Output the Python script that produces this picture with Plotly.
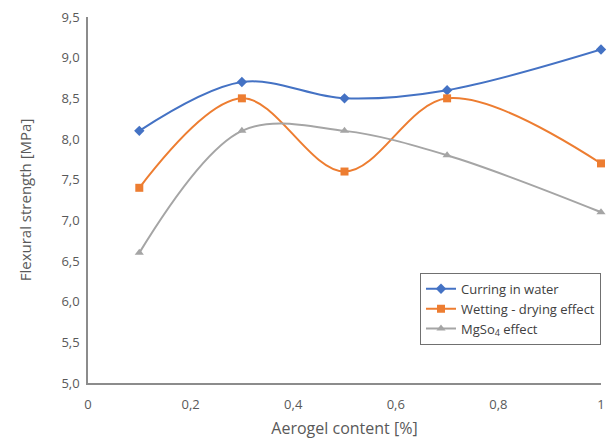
import plotly.graph_objects as go

x_vals = [0.1, 0.3, 0.5, 0.7, 1.0]
curing_water = [8.1, 8.7, 8.5, 8.6, 9.1]
wetting_drying = [7.4, 8.5, 7.6, 8.5, 7.7]
mgso4_effect = [6.6, 8.1, 8.1, 7.8, 7.1]

x_ticks = [0, 0.2, 0.4, 0.6, 0.8, 1]
x_tick_labels = ["0", "0,2", "0,4", "0,6", "0,8", "1"]

series_names = ["Curring in water", "Wetting - drying effect", "MgSo<sub>4</sub> effect"]
colors = ["#4472C4", "#ED7D31", "#A5A5A5"]
symbols = ["diamond", "square", "triangle-up"]

fig = go.Figure()
for name, ys, c, s in zip(series_names, [curing_water, wetting_drying, mgso4_effect], colors, symbols):
    fig.add_trace(go.Scatter(
        x=x_vals, y=ys, name=name, mode="lines+markers",
        line=dict(color=c, width=2, shape="spline", smoothing=1.0),
        marker=dict(symbol=s, size=8, color=c),
        cliponaxis=False,
    ))

font_family = "Open Sans, Noto Sans, sans-serif"
fig.update_layout(
    width=609, height=439,
    margin=dict(l=88, r=8, t=17, b=56),
    paper_bgcolor="white", plot_bgcolor="white",
    separators=",.",
    font=dict(family=font_family, color="#595959", size=13),
    showlegend=True,
    legend=dict(
        x=1.0, y=0.301, xanchor="right", yanchor="top",
        bordercolor="#707070", borderwidth=1, bgcolor="white",
        font=dict(size=13, color="#404040"),
        tracegroupgap=0,
    ),
    xaxis=dict(
        range=[0, 1], tickvals=x_ticks, ticktext=x_tick_labels,
        showgrid=False, zeroline=False, automargin=False,
        showline=True, linecolor="#8C8C8C", linewidth=1.5,
        ticks="", tickfont=dict(size=13), ticklabelstandoff=9,
        title=dict(text="Aerogel content [%]", font=dict(size=16), standoff=12),
    ),
    yaxis=dict(
        range=[5, 9.5], dtick=0.5, tick0=5, tickformat=".1f",
        showgrid=False, zeroline=False, automargin=False,
        showline=True, linecolor="#8C8C8C", linewidth=1.5,
        ticks="", tickfont=dict(size=13), ticklabelstandoff=4,
        title=dict(text="Flexural strength [MPa]", font=dict(size=15), standoff=26),
    ),
)

fig.write_html(
    "out.html",
    config={"displayModeBar": False},
    post_script="document.body.style.margin='0';document.body.style.overflow='hidden';",
)
